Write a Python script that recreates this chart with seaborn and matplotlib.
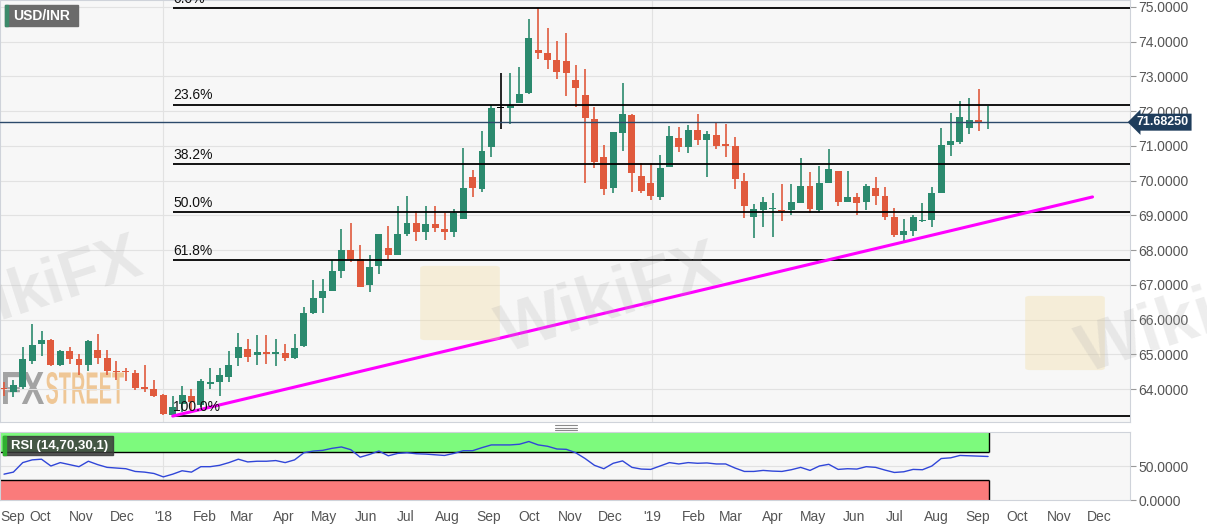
import numpy as np
import pandas as pd
import matplotlib
matplotlib.use("Agg")
import matplotlib.pyplot as plt
import matplotlib.dates as mdates
import matplotlib.transforms as mtransforms
from matplotlib.patches import Rectangle, FancyBboxPatch, PathPatch
from matplotlib.lines import Line2D
from matplotlib.textpath import TextPath
from matplotlib.font_manager import FontProperties
import seaborn as sns

# weekly USD/INR candles, first week starting 2017-09-04
first_week = "2017-09-04"
opens = [64.02, 63.92, 64.07, 64.80, 65.30, 65.40, 64.68, 65.08, 64.85, 64.68,
         65.13, 64.89, 64.53, 64.52, 64.45, 64.07, 64.00, 63.83, 63.26, 63.58,
         63.81, 63.55, 64.13, 64.19, 64.36, 64.89, 65.16, 64.97, 65.07, 65.02,
         65.05, 64.90, 65.24, 66.20, 66.63, 66.81, 67.41, 68.00, 67.73, 67.00,
         67.53, 68.07, 67.87, 68.45, 68.77, 68.52, 68.74, 68.62, 68.53, 68.89,
         70.10, 69.75, 70.98, 72.08, 72.10, 72.24, 72.52, 73.76, 73.68, 73.47,
         73.45, 72.90, 72.47, 71.78, 70.67, 69.78, 71.38, 71.90, 70.13, 69.92,
         69.54, 70.39, 71.24, 70.98, 71.46, 71.17, 71.31, 71.04, 71.00, 69.98,
         68.96, 69.15, 69.18, 69.16, 69.15, 69.36, 69.84, 69.15, 69.94, 70.28,
         69.37, 69.54, 69.37, 69.78, 69.57, 68.94, 68.43, 68.56, 68.84, 68.87,
         69.65, 71.03, 71.12, 71.51, 71.75, 71.67]
highs = [64.19, 64.27, 65.21, 65.88, 65.67, 65.45, 65.12, 65.21, 65.00, 65.40,
         65.57, 65.13, 64.82, 64.61, 64.55, 64.68, 64.26, 63.86, 63.81, 64.10,
         64.00, 64.29, 64.61, 64.61, 65.09, 65.60, 65.43, 65.55, 65.55, 65.43,
         65.31, 65.58, 66.37, 67.15, 67.17, 67.71, 68.60, 68.77, 68.16, 67.87,
         68.47, 68.69, 69.27, 69.55, 69.13, 69.27, 69.26, 69.06, 69.17, 70.93,
         70.31, 71.43, 72.18, 73.10, 73.11, 73.28, 74.65, 74.96, 74.39, 74.03,
         74.24, 73.33, 73.21, 72.11, 71.03, 71.39, 72.80, 71.92, 70.50, 70.52,
         70.74, 71.56, 71.53, 71.60, 71.92, 71.43, 71.70, 71.62, 71.26, 70.21,
         69.32, 69.54, 69.64, 69.91, 69.91, 70.64, 70.26, 70.41, 70.90, 70.28,
         70.27, 69.64, 69.90, 70.11, 69.81, 69.20, 68.89, 69.01, 69.35, 69.81,
         71.52, 71.94, 72.30, 72.37, 72.63, 72.15]
lows = [63.81, 63.78, 64.00, 64.72, 64.94, 64.65, 64.65, 64.71, 64.41, 64.53,
        64.72, 64.39, 64.26, 64.24, 63.97, 63.90, 63.76, 63.26, 63.22, 63.35,
        63.37, 63.47, 64.00, 63.81, 64.19, 64.65, 64.78, 64.68, 64.73, 64.65,
        64.81, 64.87, 65.21, 66.16, 66.20, 66.81, 67.20, 67.65, 66.93, 66.78,
        67.32, 67.71, 67.87, 68.40, 68.26, 68.28, 68.52, 68.29, 68.38, 68.89,
        69.52, 69.68, 70.67, 71.49, 71.63, 72.24, 72.50, 73.49, 73.21, 72.92,
        72.44, 72.11, 69.94, 70.36, 69.59, 69.65, 70.86, 69.66, 69.64, 69.44,
        69.44, 70.39, 70.83, 70.80, 71.03, 70.10, 70.90, 70.67, 69.75, 68.92,
        68.34, 68.67, 68.37, 68.85, 69.00, 69.36, 69.06, 69.11, 69.94, 69.28,
        69.37, 69.00, 69.14, 69.30, 68.87, 68.37, 68.24, 68.41, 68.82, 68.66,
        69.65, 70.71, 71.06, 71.34, 71.44, 71.48]
closes = [64.00, 64.12, 64.87, 65.26, 65.42, 64.68, 65.09, 64.87, 64.68, 65.37,
          64.89, 64.53, 64.50, 64.49, 64.03, 64.00, 63.81, 63.28, 63.49, 63.83,
          63.64, 64.24, 64.19, 64.39, 64.68, 65.21, 64.92, 65.07, 65.02, 65.06,
          64.90, 65.19, 66.20, 66.62, 66.81, 67.41, 68.00, 67.73, 66.93, 67.51,
          68.47, 67.87, 68.45, 68.77, 68.52, 68.76, 68.63, 68.53, 69.08, 69.78,
          69.78, 70.86, 72.08, 72.08, 72.18, 72.50, 74.10, 73.68, 73.47, 73.14,
          73.09, 72.66, 71.80, 70.55, 69.75, 71.39, 71.93, 70.21, 69.71, 69.56,
          70.37, 71.29, 70.98, 71.46, 71.17, 71.34, 71.00, 71.00, 70.05, 69.27,
          69.17, 69.38, 69.22, 69.13, 69.38, 69.84, 69.17, 69.92, 70.34, 69.37,
          69.54, 69.36, 69.84, 69.57, 68.94, 68.43, 68.56, 68.94, 68.86, 69.65,
          71.03, 71.14, 71.82, 71.75, 71.70, 71.6825]
rsi = [38, 41, 55, 59, 60, 50, 55, 52, 49, 57,
       52, 48, 47, 46, 42, 41, 39, 34, 38, 43,
       41, 49, 49, 51, 55, 60, 56, 57, 57, 58,
       55, 59, 69.5, 72, 73, 76, 78, 74, 63, 67,
       72, 65, 68.5, 69.5, 68, 67.5, 66.5, 65.5, 68.5, 72.5,
       72.5, 77, 81, 81, 81, 82, 86, 81, 79, 75,
       74.5, 69.5, 61, 51, 46, 54, 57.5, 48, 45.5, 45,
       50, 55, 53, 55, 54, 54.5, 53, 53, 47, 42,
       42, 43.5, 42.5, 42, 44.5, 48, 43.5, 50, 52.5, 45,
       46, 45.5, 49, 48, 44, 40.5, 41.5, 45, 44.5, 50,
       61, 62, 65.5, 65, 64.5, 64]

fib_high = 74.96
fib_low = 63.22
fib_start = "2018-01-08"
fib_levels = [0.0, 23.6, 38.2, 50.0, 61.8, 100.0]
trend_dates = ["2018-01-08", "2019-11-26"]
trend_values = [63.22, 69.53]
last_price = 71.6825
price_ticks = list(range(64, 76))
rsi_ticks = [0, 50]
x_start, x_end = "2017-09-01", "2019-12-24"

W, H = 1207, 526
sns.set_style("white")
plt.rcParams["font.family"] = ["Liberation Sans", "DejaVu Sans"]

fig = plt.figure(figsize=(W / 100, H / 100), dpi=100)
ax = fig.add_axes([0, 1 - 422 / H, 1130 / W, 422 / H])
ax2 = fig.add_axes([0, 1 - 500 / H, 1130 / W, 68 / H], sharex=ax)

bg = "#f7f7f7"
grid_c = "#e2e2e2"
green, red = "#2b8a6e", "#e05a3d"
for a in (ax, ax2):
    a.set_facecolor(bg)
    for s in a.spines.values():
        s.set_color("#cfd3da")
        s.set_linewidth(0.8)

dates = pd.date_range(first_week, periods=len(opens), freq="7D")
x = mdates.date2num(dates)
o, h, l, c = map(np.array, (opens, highs, lows, closes))
cols = np.where(c > o, green, np.where(c < o, red, "black"))
body_lo = np.minimum(o, c)
body_h = np.maximum(np.abs(c - o), 0.03)

xl = mdates.date2num(pd.Timestamp(x_start))
xr = mdates.date2num(pd.Timestamp(x_end))

# grid
for p in price_ticks:
    ax.axhline(p, color=grid_c, lw=0.8, zorder=0.5)
for yr in ["2018-01-01", "2019-01-01"]:
    ax.axvline(mdates.date2num(pd.Timestamp(yr)), color=grid_c, lw=0.8, zorder=0.5)
    ax2.axvline(mdates.date2num(pd.Timestamp(yr)), color=grid_c, lw=0.8, zorder=0.5)


def squeezed_word(word, x0, x1, ytop, ybot, color):
    # draw a word stretched into a pixel box (top-left origin)
    tp = TextPath((0, 0), word, size=1,
                  prop=FontProperties(family="Liberation Sans", weight="bold"))
    ext = tp.get_extents()
    sx = (x1 - x0) / ext.width
    sy = (ybot - ytop) / ext.height
    tr = (mtransforms.Affine2D().translate(-ext.x0, -ext.y0).scale(sx, sy)
          .translate(x0, H - ybot))
    fig.add_artist(PathPatch(tp, transform=tr, fc=color, ec="none", alpha=0.9,
                             zorder=0.2))


# candles
ax.vlines(x, l, h, colors=cols, lw=1.2, zorder=2)
ax.bar(x, body_h, bottom=body_lo, width=5.2, color=cols, linewidth=0, zorder=3)

# fibonacci
fx = mdates.date2num(pd.Timestamp(fib_start))
for lvl in fib_levels:
    pr = fib_high - (fib_high - fib_low) * lvl / 100
    ax.hlines(pr, fx, xr, color="black", lw=1.3, zorder=4)
    t = ax.text(fx + 0.5, pr + 0.06, f"{lvl:.1f}%", fontsize=10, va="bottom",
                ha="left", color="#111111", zorder=5)
    t.set_clip_on(True)

# trend line
sns.lineplot(x=pd.to_datetime(trend_dates), y=trend_values, ax=ax,
             color="#ff00ff", lw=2.2, zorder=4)

# last price
ax.axhline(last_price, color="#2c4a6b", lw=1, zorder=4)
ax.annotate(f"{last_price:.5f}", xy=(1.0, last_price), xycoords=("axes fraction", "data"),
            xytext=(5, 0), textcoords="offset points", va="center", ha="left",
            color="white", fontweight="bold", fontsize=9,
            bbox=dict(boxstyle="larrow,pad=0.2", fc="#1f3d5c", ec="none"),
            annotation_clip=False, zorder=6)

# symbol box
ax.add_patch(Rectangle((5 / 1130, 1 - 26 / 422), 73 / 1130, 21 / 422,
                       transform=ax.transAxes, color="#6b6b6b", zorder=6))
ax.add_patch(Rectangle((5 / 1130, 1 - 26 / 422), 2.5 / 1130, 21 / 422,
                       transform=ax.transAxes, color="#3c8a6a", zorder=7))
ax.text(42 / 1130, 1 - 15.5 / 422, "USD/INR", transform=ax.transAxes, ha="center",
        va="center", color="white", fontweight="bold", fontsize=10, zorder=8)

ax.set_ylim(63.05, 75.2)
ax.set_xlim(xl, xr)
ax.yaxis.tick_right()
ax.set_yticks(price_ticks)
ax.set_yticklabels([f"{p:.4f}" for p in price_ticks])
ax.tick_params(axis="y", colors="#999999", labelcolor="#555555", labelsize=10,
               length=4, width=0.8, pad=2)
ax.tick_params(axis="x", labelbottom=False, length=0)
ax.set_xlabel("")
ax.set_ylabel("")
ax.patch.set_alpha(0)
ax.set_zorder(1)

# background panel so the FXStreet mark sits under the candles
fig.add_artist(Rectangle((0, 1 - 422 / H), 1130 / W, 422 / H,
                         transform=fig.transFigure, fc=bg, ec="none", zorder=0.1))
squeezed_word("FX", 3, 44, 372, 404, "#9a9a9a")
squeezed_word("STREET", 46, 124, 372, 404, "#efc28c")

# RSI panel
band_r = x[-1] + 1
ax2.fill_between([xl, band_r], 70, 100, color="#7dfa7d", lw=0, zorder=1)
ax2.fill_between([xl, band_r], 0, 30, color="#fa7b7b", lw=0, zorder=1)
ax2.hlines([70, 30], xl, band_r, color="black", lw=1, zorder=2)
ax2.vlines(band_r, 70, 100, color="black", lw=1, zorder=2)
ax2.vlines(band_r, 0, 30, color="black", lw=1, zorder=2)
ax2.axhline(50, color=grid_c, lw=0.8, zorder=0.5)
sns.lineplot(x=dates, y=rsi, ax=ax2, color="#3046d8", lw=1, zorder=3)

ax2.add_patch(Rectangle((3 / 1130, 1 - 23 / 68), 110 / 1130, 19 / 68,
                        transform=ax2.transAxes, color="#3a3a3a", alpha=0.85, zorder=6))
ax2.add_patch(Rectangle((3 / 1130, 1 - 23 / 68), 3 / 1130, 19 / 68,
                        transform=ax2.transAxes, color="#2fb02f", zorder=7))
ax2.text(60 / 1130, 1 - 13.5 / 68, "RSI (14,70,30,1)", transform=ax2.transAxes,
         ha="center", va="center", color="white", fontweight="bold", fontsize=9.5, zorder=8)

ax2.set_ylim(0, 100)
ax2.yaxis.tick_right()
ax2.set_yticks(rsi_ticks)
ax2.set_yticklabels([f"{v:.4f}" for v in rsi_ticks])
ax2.tick_params(axis="y", colors="#999999", labelcolor="#555555", labelsize=10,
                length=4, width=0.8, pad=2)
months = pd.date_range("2017-09-01", "2019-12-01", freq="MS")
labels = [("'" + m.strftime("%y")) if m.month == 1 else m.strftime("%b") for m in months]
ax2.set_xticks(mdates.date2num(months))
ax2.set_xticklabels(labels)
ax2.tick_params(axis="x", colors="#999999", labelcolor="#555555", labelsize=10,
                length=4, width=0.8, pad=3)
ax2.get_xticklabels()[0].set_ha("left")
ax2.set_xlim(xl, xr)
ax2.set_xlabel("")
ax2.set_ylabel("")

# panel divider handle
for yy in (425, 427.5, 430):
    fig.add_artist(Line2D([555 / W, 577 / W], [1 - yy / H, 1 - yy / H],
                          color="#8a8a8a", lw=0.8))

# WikiFX watermarks (overlay)
for (cx, cy) in [(425, 268), (1030, 298)]:
    fig.add_artist(FancyBboxPatch((cx / W, 1 - (cy + 70) / H), 70 / W, 70 / H,
                                  boxstyle="round,pad=0.004", fc="#f3dca0",
                                  ec="none", alpha=0.35, zorder=5))
for (cx, cy, s) in [(40, 290, 46), (610, 300, 50), (1190, 320, 50)]:
    fig.text(cx / W, 1 - cy / H, "WikiFX", fontsize=s, fontweight="bold",
             color="#b0b0b0", alpha=0.22, rotation=18, ha="center", va="center",
             zorder=5)

fig.savefig("out.png", dpi=100)
